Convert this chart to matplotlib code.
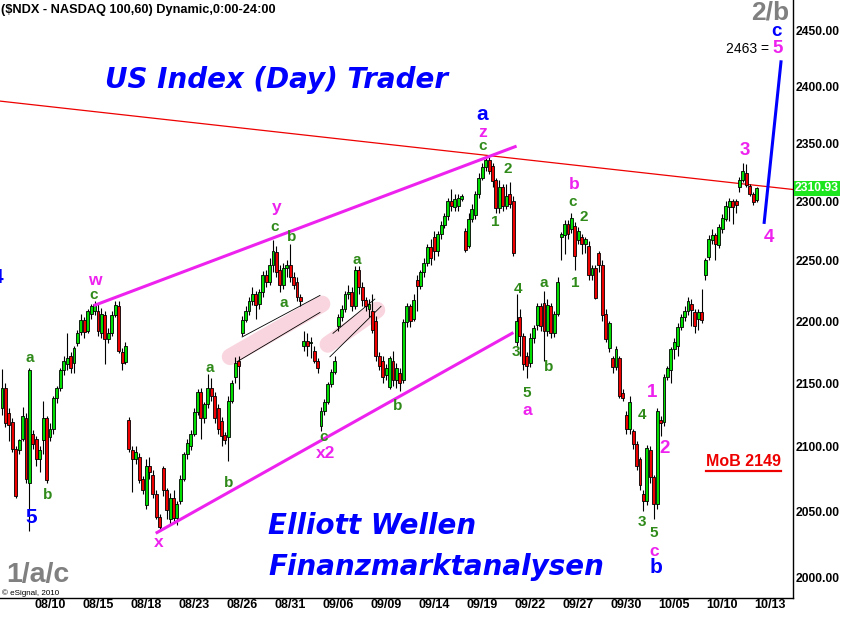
"""
NDX 60分钟K线 + 艾略特波浪标注，复刻 eSignal 截图
"""

import numpy as np
import matplotlib
matplotlib.use("Agg")  # 非交互式后端
import matplotlib.pyplot as plt
from matplotlib.transforms import blended_transform_factory
from matplotlib.ticker import FixedLocator, FixedFormatter, NullLocator

plt.rcParams["font.family"] = ["Liberation Sans", "DejaVu Sans"]

# ========== 数据：每根K线 (open, high, low, close) ==========

seg_a = [
    (2130, 2161, 2125, 2146), (2146, 2150, 2115, 2118), (2126, 2130, 2104, 2117),
    (2119, 2122, 2096, 2098), (2098, 2100, 2060, 2062), (2097, 2106, 2094, 2105),
    (2106, 2131, 2104, 2124), (2122, 2126, 2072, 2075), (2072, 2162, 2035, 2160),
    (2110, 2113, 2098, 2102), (2106, 2108, 2085, 2090), (2090, 2100, 2080, 2097),
    (2105, 2136, 2094, 2122), (2122, 2124, 2072, 2074), (2107, 2118, 2104, 2114),
    (2114, 2140, 2110, 2138), (2138, 2148, 2134, 2146), (2146, 2162, 2144, 2160),
    (2160, 2172, 2156, 2168), (2165, 2190, 2160, 2170), (2172, 2175, 2158, 2162),
    (2166, 2180, 2158, 2178), (2182, 2193, 2180, 2190), (2191, 2206, 2189, 2201),
    (2201, 2203, 2186, 2191), (2192, 2210, 2190, 2208), (2206, 2214, 2202, 2212),
    (2208, 2216, 2205, 2214), (2208, 2214, 2188, 2192), (2190, 2211, 2186, 2206),
    (2205, 2208, 2165, 2185), (2185, 2194, 2182, 2190), (2190, 2208, 2188, 2205),
    (2205, 2216, 2203, 2213), (2212, 2216, 2174, 2176), (2175, 2178, 2160, 2166),
    (2167, 2183, 2165, 2180),
]
seg_b = [
    (2121, 2123, 2096, 2098), (2097, 2100, 2065, 2090), (2090, 2100, 2086, 2096),
    (2092, 2095, 2072, 2074), (2075, 2077, 2063, 2066), (2055, 2090, 2052, 2085),
    (2085, 2092, 2075, 2080), (2078, 2082, 2060, 2063), (2063, 2066, 2044, 2046),
    (2046, 2048, 2035, 2038), (2083, 2085, 2062, 2066), (2066, 2068, 2044, 2051),
    (2044, 2064, 2040, 2060), (2060, 2066, 2042, 2045), (2045, 2058, 2040, 2056),
    (2058, 2078, 2056, 2075), (2075, 2096, 2073, 2094), (2094, 2106, 2090, 2103),
    (2100, 2113, 2097, 2110), (2110, 2130, 2108, 2127), (2127, 2145, 2125, 2143),
    (2143, 2146, 2106, 2122), (2122, 2135, 2118, 2133), (2133, 2157, 2130, 2146),
    (2146, 2154, 2136, 2140), (2140, 2143, 2118, 2122), (2130, 2133, 2110, 2114),
    (2120, 2123, 2100, 2108), (2109, 2111, 2102, 2105), (2107, 2140, 2089, 2136),
    (2136, 2152, 2134, 2150), (2155, 2171, 2150, 2166), (2168, 2172, 2145, 2164),
]
seg_c = [
    (2190, 2204, 2188, 2201), (2201, 2212, 2199, 2208), (2208, 2220, 2205, 2216),
    (2216, 2228, 2213, 2222), (2222, 2225, 2202, 2213), (2214, 2226, 2210, 2224),
    (2224, 2241, 2220, 2238), (2238, 2242, 2228, 2232), (2232, 2252, 2230, 2246),
    (2246, 2267, 2240, 2258), (2257, 2262, 2236, 2240), (2242, 2246, 2224, 2230),
    (2230, 2248, 2226, 2244), (2244, 2250, 2236, 2246), (2246, 2264, 2232, 2236),
    (2236, 2240, 2226, 2230), (2232, 2236, 2216, 2220), (2220, 2222, 2212, 2216),
    (2180, 2192, 2176, 2184), (2184, 2190, 2172, 2180), (2182, 2187, 2170, 2183),
    (2176, 2180, 2166, 2168), (2168, 2170, 2158, 2162), (2116, 2131, 2112, 2128),
    (2128, 2137, 2125, 2135), (2135, 2151, 2133, 2149), (2149, 2161, 2147, 2159),
    (2159, 2172, 2157, 2168),
]
seg_d = [
    (2196, 2206, 2192, 2203), (2203, 2213, 2200, 2210), (2210, 2225, 2207, 2222),
    (2222, 2230, 2218, 2224), (2224, 2228, 2208, 2212), (2212, 2245, 2210, 2242),
    (2242, 2245, 2222, 2228), (2228, 2232, 2212, 2217), (2217, 2220, 2208, 2212),
    (2210, 2218, 2203, 2214), (2208, 2222, 2190, 2193), (2200, 2204, 2168, 2172),
    (2172, 2175, 2160, 2164), (2168, 2172, 2150, 2155), (2156, 2165, 2152, 2162),
    (2147, 2172, 2145, 2170), (2168, 2176, 2148, 2152), (2152, 2166, 2146, 2162),
    (2158, 2162, 2144, 2150), (2152, 2202, 2150, 2199),
]
seg_e = [
    (2199, 2215, 2195, 2212), (2212, 2214, 2195, 2200), (2202, 2222, 2200, 2217),
    (2234, 2238, 2208, 2229), (2229, 2242, 2226, 2240), (2240, 2252, 2236, 2248),
    (2248, 2264, 2245, 2261), (2261, 2268, 2246, 2252), (2270, 2275, 2250, 2258),
    (2258, 2275, 2254, 2272), (2272, 2283, 2268, 2280), (2280, 2290, 2277, 2287),
    (2287, 2303, 2284, 2300), (2300, 2310, 2292, 2296), (2295, 2306, 2292, 2302),
    (2296, 2306, 2292, 2303), (2302, 2306, 2300, 2304), (2275, 2277, 2257, 2259),
    (2262, 2290, 2260, 2285), (2285, 2298, 2282, 2293), (2288, 2309, 2285, 2306),
    (2306, 2324, 2303, 2320), (2320, 2333, 2318, 2329), (2329, 2339, 2326, 2335),
    (2335, 2338, 2323, 2326), (2330, 2333, 2312, 2317), (2318, 2320, 2290, 2294),
    (2294, 2318, 2290, 2312), (2312, 2315, 2292, 2296), (2296, 2315, 2293, 2304),
    (2306, 2316, 2294, 2298), (2300, 2304, 2254, 2256),
]
seg_f = [
    (2183, 2222, 2180, 2200), (2203, 2210, 2172, 2188), (2188, 2190, 2160, 2165),
    (2172, 2175, 2154, 2164), (2166, 2190, 2163, 2186), (2186, 2197, 2182, 2194),
    (2197, 2215, 2193, 2212), (2212, 2215, 2192, 2196), (2215, 2225, 2168, 2192),
    (2192, 2218, 2188, 2213), (2212, 2215, 2186, 2190), (2190, 2208, 2187, 2206),
    (2206, 2236, 2204, 2232),
]
seg_g = [
    (2270, 2274, 2250, 2272), (2271, 2284, 2255, 2281), (2281, 2284, 2268, 2272),
    (2276, 2290, 2273, 2286), (2279, 2282, 2242, 2254), (2267, 2278, 2264, 2275),
    (2270, 2272, 2255, 2264), (2264, 2270, 2256, 2268), (2262, 2266, 2234, 2238),
    (2238, 2246, 2234, 2244), (2244, 2246, 2218, 2219), (2256, 2258, 2240, 2246),
    (2246, 2250, 2200, 2205), (2206, 2210, 2183, 2185), (2178, 2200, 2175, 2198),
    (2170, 2172, 2158, 2163), (2163, 2180, 2160, 2177), (2170, 2172, 2138, 2140),
    (2142, 2145, 2136, 2138),
]
seg_h = [
    (2125, 2128, 2110, 2114), (2114, 2140, 2110, 2135), (2112, 2114, 2098, 2102),
    (2102, 2104, 2082, 2085), (2090, 2092, 2066, 2070), (2063, 2066, 2050, 2058),
    (2058, 2101, 2055, 2099), (2097, 2100, 2072, 2076), (2076, 2078, 2044, 2056),
    (2056, 2130, 2052, 2128), (2121, 2124, 2108, 2118), (2119, 2157, 2116, 2155),
    (2155, 2164, 2152, 2162), (2160, 2179, 2150, 2177), (2177, 2186, 2169, 2183),
    (2180, 2198, 2172, 2195), (2195, 2206, 2193, 2203), (2203, 2212, 2200, 2208),
    (2208, 2220, 2205, 2216), (2214, 2218, 2196, 2209), (2207, 2210, 2190, 2196),
    (2202, 2210, 2193, 2207), (2207, 2226, 2198, 2201),
]
seg_i = [
    (2238, 2252, 2234, 2250), (2253, 2271, 2250, 2268), (2267, 2276, 2264, 2271),
    (2271, 2273, 2250, 2264), (2263, 2281, 2260, 2278), (2276, 2289, 2273, 2286),
    (2285, 2300, 2283, 2296), (2295, 2303, 2283, 2300), (2300, 2302, 2281, 2295),
    (2300, 2302, 2290, 2297), (2312, 2321, 2308, 2318), (2318, 2333, 2316, 2326),
    (2324, 2332, 2312, 2314), (2313, 2315, 2304, 2306), (2306, 2308, 2297, 2299),
    (2301, 2312, 2299, 2310.93),
]

x_tick_pos = [14, 28, 42, 56, 70, 84, 98, 112, 126, 140, 154, 168, 182, 196, 210, 224]
x_tick_labels = ["08/10", "08/15", "08/18", "08/23", "08/26", "08/31", "09/06", "09/09",
                 "09/14", "09/19", "09/22", "09/27", "09/30", "10/05", "10/10", "10/13"]
y_ticks = [2000, 2050, 2100, 2150, 2200, 2250, 2300, 2350, 2400, 2450]

# 趋势线 / 通道线 (bar序号, 价格)
red_line = ([-0.6, 230.6], [2387, 2310])
upper_line = ([27.1, 149.6], [2213, 2347])
lower_line = ([45.2, 148.7], [2034, 2190])
blue_line = ([222.2, 227.1], [2282, 2422])
chan1_upper = ([70, 92.7], [2187, 2221])
chan1_lower = ([68.5, 92.7], [2167, 2207])
chan1_band = ([66.5, 93.3], [2171, 2214])
chan2_upper = ([96.5, 108.7], [2190, 2218])
chan2_lower = ([95.6, 110.5], [2171, 2212])
chan2_band = ([95, 109.3], [2181, 2209])

# 波浪标注 (bar序号, 价格, 文本, 类型)
wave_labels = [
    (8.45, 2045.5, "5", "blue"), (8.2, 2170, "a", "green"), (13.4, 2062.5, "b", "green"),
    (26.8, 2221.5, "c", "green"), (27.1, 2233, "w", "mag"),
    (60.6, 2162, "a", "green"), (66.2, 2072, "b", "green"), (45.8, 2026.5, "x", "mag"),
    (80.2, 2294.5, "y", "mag"), (79.6, 2278.5, "c", "green"), (84.5, 2269.5, "b", "green"),
    (82.2, 2214.5, "a", "green"), (103.5, 2250, "a", "green"), (93.9, 2107.6, "c", "green"),
    (94.2, 2094.6, "x2", "mag"), (115.2, 2131.4, "b", "green"),
    (140, 2375.5, "a", "blue"), (140.2, 2359.5, "z", "mag"), (140, 2347.2, "c", "green"),
    (147.5, 2328, "2", "green"), (143.7, 2282, "1", "green"),
    (150.4, 2226, "4", "green"), (149.9, 2174.6, "3", "green"), (153, 2141.8, "5", "green"),
    (153, 2128, "a", "mag"), (158, 2231, "a", "green"), (159.5, 2162.6, "b", "green"),
    (167, 2231.6, "1", "green"), (166.8, 2314, "b", "mag"), (166.5, 2299, "c", "green"),
    (169.7, 2286.6, "2", "green"),
    (186.6, 2124.3, "4", "green"), (186.6, 2041.7, "3", "green"), (190, 2034, "5", "green"),
    (190, 2019.4, "c", "mag"), (190.7, 2007.6, "b", "blue"),
    (189.5, 2142.5, "1", "magd"), (193.3, 2098.7, "2", "magd"),
    (216.6, 2344, "3", "magd"), (223.6, 2269.5, "4", "magd"), (226, 2434, "5", "magd"),
    (225.7, 2449.5, "c", "bluec"), (-1.45, 2236, "4", "blue"),
]

# ========== 样式 ==========

UP = "#00dd00"
DOWN = "#ee0000"
MAGENTA = "#ee22ee"
LABEL_STYLE = {
    "green": dict(color="#2f8a1a", fontsize=11),
    "mag": dict(color=MAGENTA, fontsize=12.5),
    "magd": dict(color=MAGENTA, fontsize=13.5),
    "blue": dict(color="#0000ff", fontsize=15),
    "bluec": dict(color="#0000ff", fontsize=13.5),
}
TITLE_FONT = dict(family="DejaVu Sans", weight="bold", style="oblique", fontsize=20, color="#0000ff")

# ========== 绘图 ==========

bars = seg_a + seg_b + seg_c + seg_d + seg_e + seg_f + seg_g + seg_h + seg_i
o, h, l, c = (np.array(v, dtype=float) for v in zip(*bars))
x = np.arange(len(c))

fig = plt.figure(figsize=(8.42, 6.19), dpi=100)
ax = fig.add_axes([0, 21 / 619, 793 / 842, 598 / 619])
ax.set_yscale("log")
ax.set_xlim(-0.58, 230.6)
ax.set_ylim(1985.2, 2478.2)

# K线
ax.vlines(x, l, h, color="black", lw=0.8, zorder=3)
ax.bar(x, np.abs(c - o), bottom=np.minimum(o, c), width=0.85,
       color=np.where(c >= o, UP, DOWN), edgecolor="black", linewidth=0.6, zorder=4)

# 通道带与细线
for band in (chan1_band, chan2_band):
    ax.plot(*band, color="#f9d6df", lw=12, solid_capstyle="round", zorder=1)
for seg in (chan1_upper, chan1_lower, chan2_upper, chan2_lower):
    ax.plot(*seg, color="black", lw=0.6, zorder=2)

ax.plot(*red_line, color="#ee0000", lw=0.9, zorder=2)
ax.plot(*upper_line, color=MAGENTA, lw=2.2, zorder=5)
ax.plot(*lower_line, color=MAGENTA, lw=2.2, zorder=5)
ax.plot(*blue_line, color="#0000ff", lw=2.2, zorder=5)

for lx, ly, txt, kind in wave_labels:
    ax.text(lx, ly, txt, ha="center", va="center", weight="bold", zorder=6,
            clip_on=True, **LABEL_STYLE[kind])

ax.text(229.4, 2460, "2/b", ha="right", va="baseline", weight="bold", fontsize=19,
        color="#808080", zorder=6)
ax.text(10.5, 2002.2, "1/a/c", ha="center", va="center", weight="bold", fontsize=20.5,
        color="#808080", zorder=6)
ax.text(223.6, 2434, "2463 =", ha="right", va="center", fontsize=10, color="black", zorder=6)
ax.text(216.2, 2088.3, "MoB 2149", ha="center", va="center", weight="bold", fontsize=11.5,
        color="#ee0000", zorder=6)
ax.plot([205.2, 227.1], [2081, 2081], color="#ee0000", lw=1.6, zorder=6)

# 最新价标签
trans = blended_transform_factory(ax.transAxes, ax.transData)
ax.text(1.0025, c[-1], f"{c[-1]:.2f}", transform=trans, ha="left", va="center",
        color="white", weight="bold", fontsize=8.7, clip_on=False, zorder=10,
        bbox=dict(boxstyle="square,pad=0.12", fc="#1ee61e", ec="none"))

# 坐标轴
for side in ("left", "top"):
    ax.spines[side].set_visible(False)
for side in ("right", "bottom"):
    ax.spines[side].set_linewidth(1.0)
ax.yaxis.tick_right()
ax.yaxis.set_major_locator(FixedLocator(y_ticks))
ax.yaxis.set_major_formatter(FixedFormatter([f"{v:.2f}" for v in y_ticks]))
ax.yaxis.set_minor_locator(NullLocator())
ax.xaxis.set_major_locator(FixedLocator(x_tick_pos))
ax.xaxis.set_major_formatter(FixedFormatter(x_tick_labels))
ax.tick_params(axis="y", length=0, pad=2.2, labelsize=8.7)
ax.tick_params(axis="x", length=0, pad=1.0, labelsize=9)
for lab in ax.get_xticklabels() + ax.get_yticklabels():
    lab.set_fontweight("bold")

# 图上文字
fig.text(1 / 842, 1 - 12.5 / 619, "($NDX - NASDAQ 100,60) Dynamic,0:00-24:00",
         fontsize=9.2, weight="bold", va="baseline")
fig.text(105 / 842, 1 - 88 / 619, "US Index (Day) Trader", va="baseline", **TITLE_FONT)
fig.text(268 / 842, 1 - 534 / 619, "Elliott Wellen", va="baseline", **TITLE_FONT)
fig.text(268 / 842, 1 - 575 / 619, "Finanzmarktanalysen", va="baseline", **TITLE_FONT)
fig.text(2 / 842, 1 - 595 / 619, "\u00a9 eSignal, 2010", fontsize=5.8, va="baseline")

fig.savefig("out.png", dpi=100)
